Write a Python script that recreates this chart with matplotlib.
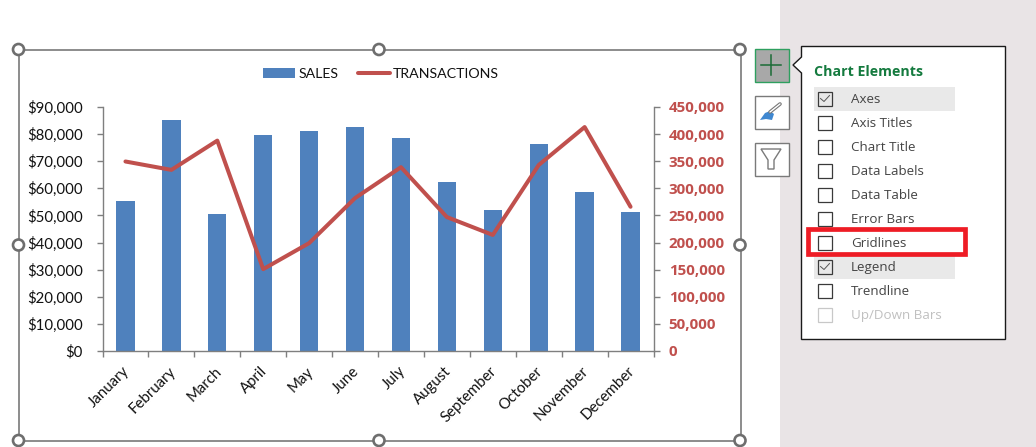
import matplotlib
matplotlib.use("Agg")
import matplotlib.pyplot as plt
from matplotlib.patches import Rectangle, Circle, Polygon
from matplotlib.lines import Line2D
from matplotlib.ticker import FuncFormatter, MultipleLocator
from matplotlib.transforms import ScaledTranslation

months = ["January", "February", "March", "April", "May", "June", "July",
          "August", "September", "October", "November", "December"]
sales = [55300, 85200, 50500, 79700, 81100, 82600, 78500, 62300, 52000, 76300, 58600, 51300]
transactions = [349500, 334000, 388000, 151000, 199000, 282000, 339000, 247000, 214000, 343000, 413000, 266000]
menu_items = ["Axes", "Axis Titles", "Chart Title", "Data Labels", "Data Table",
              "Error Bars", "Gridlines", "Legend", "Trendline", "Up/Down Bars"]
checked_items = ["Axes", "Legend"]

W, H = 1036, 447
BLUE, RED = "#4f81bd", "#c0504d"
GREY = "#7f7f7f"
plt.rcParams["font.family"] = ["Lato", "DejaVu Sans"]
fig = plt.figure(figsize=(W / 100, H / 100), dpi=100, facecolor="white")

# full-figure overlay in pixel coordinates for the Excel interface
ui = fig.add_axes([0, 0, 1, 1], zorder=0)
ui.set_xlim(0, W); ui.set_ylim(H, 0); ui.axis("off")
ui.add_patch(Rectangle((780, 0), W - 780, H, fc="#e9e4e6", ec="none"))
ui.add_patch(Rectangle((18.5, 49.5), 722, 391, fc="white", ec="#6e6e6e", lw=1.1))
for hx in (18.5, 379, 740):
    for hy in (49.5, 245, 440.5):
        if hx == 379 and hy == 245:
            continue
        ui.add_patch(Circle((hx, hy), 5.5, fc="white", ec="#6e6e6e", lw=1.9, zorder=3))

# side buttons
ui.add_patch(Rectangle((754.5, 48.5), 34, 33, fc="#a8a8a8", ec="#2e9f5f", lw=1))
ui.add_line(Line2D([761, 781], [65, 65], color="#1a6b36", lw=1.1))
ui.add_line(Line2D([771, 771], [55, 75], color="#1a6b36", lw=1.1))
ui.add_patch(Rectangle((754.5, 95.5), 34, 33, fc="white", ec="#7a7a7a", lw=1))
ui.add_line(Line2D([770, 780], [112, 104], color="#777777", lw=2.6, solid_capstyle="round"))
ui.add_line(Line2D([770, 780], [112, 104], color="white", lw=1.0, solid_capstyle="round"))
ui.add_patch(Polygon([[760, 120], [766, 119], [772, 120], [774, 114], [770, 111], [765, 113]],
                     fc="#3f87d0", ec="none"))
ui.add_patch(Rectangle((754.5, 142.5), 34, 33, fc="white", ec="#7a7a7a", lw=1))
ui.add_patch(Polygon([[761, 149], [781, 149], [774, 160], [774, 169], [768, 169], [768, 160]],
                     fc="white", ec="#7a7a7a", lw=1))

# popup panel
ui.add_patch(Polygon([[801.5, 46.5], [1005.5, 46.5], [1005.5, 339.5], [801.5, 339.5],
                      [801.5, 73], [793, 65], [801.5, 57]], fc="white", ec="#1a1a1a", lw=1, zorder=1))
ui.text(814, 71.5, "Chart Elements", color="#147a3e", fontsize=10.2, fontweight="bold",
        family="Open Sans", va="center", ha="left", zorder=2)
for i, item in enumerate(menu_items):
    y = 98.5 + 24 * i
    disabled = item == "Up/Down Bars"
    if item in checked_items:
        ui.add_patch(Rectangle((814, y - 12), 141, 24, fc="#e9e9e9", ec="none", zorder=2))
    ui.add_patch(Rectangle((818, y - 7), 14, 14, fc="none",
                           ec="#c8c8c8" if disabled else "#3a3a3a", lw=0.9, zorder=3))
    if item in checked_items:
        ui.add_line(Line2D([820.5, 824, 829.5], [y, y + 3, y - 3], color="#555555", lw=0.7, zorder=3))
    ui.text(851, y + 1, item, color="#c0c0c0" if disabled else "#444444", fontsize=9.6,
            family="Open Sans", va="center", ha="left", zorder=3)
ui.add_patch(Rectangle((808, 229), 157, 25, fc="none", ec="#ee1c25", lw=3.4, zorder=4))

# chart
left, right, top, bottom = 102.5, 653.5, 107, 351
ax = fig.add_axes([left / W, 1 - bottom / H, (right - left) / W, (bottom - top) / H], zorder=2)
ax.patch.set_alpha(0)
x = list(range(12))
bars = ax.bar(x, sales, width=0.4, color=BLUE, label="SALES", zorder=2)
ax.set_xlim(-0.5, 11.5)
ax.set_ylim(0, 90000)
ax.yaxis.set_major_locator(MultipleLocator(10000))
ax.yaxis.set_major_formatter(FuncFormatter(lambda v, _: f"${v:,.0f}"))
ax.set_xticks([i - 0.5 for i in range(13)])
ax.set_xticklabels([])
ax.set_xticks(x, minor=True)
ax.set_xticklabels(months, minor=True, rotation=45, ha="right", va="center",
                   rotation_mode="anchor", fontsize=10.8, color="#111111")
ax.tick_params(axis="x", which="minor", length=0, pad=13)
ax.tick_params(axis="x", which="major", length=4, width=1, color=GREY, direction="out")
ax.tick_params(axis="y", length=4, width=1, color=GREY, labelsize=10.8, pad=10, labelcolor="#111111")
shift = ScaledTranslation(2 / 100, 0, fig.dpi_scale_trans)
for lab in ax.get_xticklabels(minor=True):
    lab.set_transform(lab.get_transform() + shift)
for s in ("top", "right"):
    ax.spines[s].set_visible(False)
for s in ("left", "bottom"):
    ax.spines[s].set_color(GREY)
    ax.spines[s].set_linewidth(1)

ax2 = ax.twinx()
line, = ax2.plot(x, transactions, color=RED, lw=2.9, label="TRANSACTIONS",
                 solid_joinstyle="round", solid_capstyle="round", zorder=3)
ax2.set_ylim(0, 450000)
ax2.yaxis.set_major_locator(MultipleLocator(50000))
ax2.yaxis.set_major_formatter(FuncFormatter(lambda v, _: f"{v:,.0f}"))
ax2.tick_params(axis="y", length=4, width=1, color=GREY, labelsize=10.9, labelcolor=RED, pad=7,
                labelfontfamily="Open Sans")
fig.canvas.draw()
for lab in ax2.get_yticklabels():
    lab.set_fontweight("bold")
for s in ("top", "left", "bottom"):
    ax2.spines[s].set_visible(False)
ax2.spines["right"].set_color(GREY)
ax2.spines["right"].set_linewidth(1)

fig.legend([bars, line], ["SALES", "TRANSACTIONS"], loc="center", ncol=2, frameon=False,
           bbox_to_anchor=(381 / W, 1 - 73.5 / H), fontsize=10.2, handlelength=2.26,
           columnspacing=1.35, handletextpad=0.25, labelcolor="#111111")

fig.savefig("out.png", dpi=100)
